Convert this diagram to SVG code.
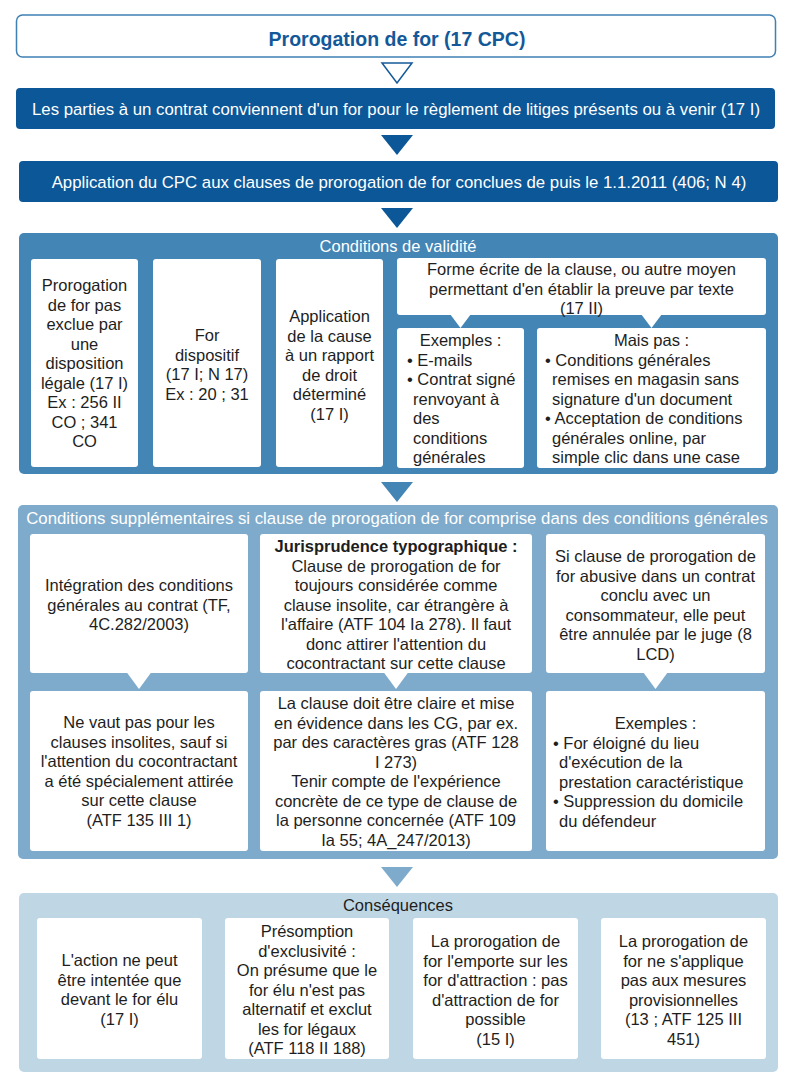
<svg xmlns="http://www.w3.org/2000/svg" width="792" height="1086" viewBox="0 0 792 1086">
  <style>
    text { font-family: "Liberation Sans", Arial, Helvetica, sans-serif; font-size: 16.5px; fill: #1e1e1e; }
    .c { text-anchor: middle; }
    .w { fill: #ffffff; }
    .wide { font-size: 16.8px; }
    .title { font-size: 19.5px; font-weight: bold; fill: #13599a; }
    .bold { font-weight: bold; }
    .card { fill: #ffffff; }
    .bar { fill: #0b5797; }
    .s1 { fill: #4385b4; }
    .s2 { fill: #7eabcc; }
    .s3 { fill: #bfd7e5; }
  </style>

  <!-- connectors -->
  <g id="connectors">
    <polygon points="382,63 412,63 397,83" fill="#ffffff" stroke="#13599a" stroke-width="1.5"/>
    <polygon points="381,135 413,135 397,155" fill="#0b5797"/>
    <polygon points="381,208 413,208 397,228" fill="#0b5797"/>
    <polygon points="381,482 413,482 397,502" fill="#4385b4"/>
    <polygon points="381,867 413,867 397,887" fill="#7eabcc"/>
  </g>

  <!-- heading -->
  <g id="heading">
    <rect x="16.5" y="15" width="759" height="42" rx="6" fill="#ffffff" stroke="#3f80b5" stroke-width="1.5"/>
    <text class="title c" x="397" y="46">Prorogation de for (17 CPC)</text>
  </g>

  <g id="agreement">
    <rect class="bar" x="16" y="88" width="759" height="41" rx="4"/>
    <text class="w c wide" x="396" y="115">Les parties à un contrat conviennent d'un for pour le règlement de litiges présents ou à venir (17 I)</text>
  </g>

  <g id="application">
    <rect class="bar" x="19" y="161" width="759" height="41" rx="4"/>
    <text class="w c wide" x="399" y="188">Application du CPC aux clauses de prorogation de for conclues de puis le 1.1.2011 (406; N 4)</text>
  </g>

  <!-- Conditions de validité -->
  <g id="validite">
    <rect class="s1" x="19" y="233" width="759" height="241" rx="5"/>
    <text class="w c" x="398" y="252">Conditions de validité</text>

    <g id="v-exclue">
      <rect class="card" x="31" y="259" width="107" height="208" rx="3"/>
      <text class="c" x="84.5" y="291">Prorogation<tspan x="84.5" dy="19.5">de for pas</tspan><tspan x="84.5" dy="19.5">exclue par</tspan><tspan x="84.5" dy="19.5">une</tspan><tspan x="84.5" dy="19.5">disposition</tspan><tspan x="84.5" dy="19.5">légale (17 I)</tspan><tspan x="84.5" dy="19.5">Ex : 256 II</tspan><tspan x="84.5" dy="19.5">CO ; 341</tspan><tspan x="84.5" dy="19.5">CO</tspan></text>
    </g>

    <g id="v-dispositif">
      <rect class="card" x="153" y="259" width="108" height="208" rx="3"/>
      <text class="c" x="207" y="341">For<tspan x="207" dy="19.5">dispositif</tspan><tspan x="207" dy="19.5">(17 I; N 17)</tspan><tspan x="207" dy="19.5">Ex : 20 ; 31</tspan></text>
    </g>

    <g id="v-rapport">
      <rect class="card" x="276" y="259" width="107" height="208" rx="3"/>
      <text class="c" x="329.5" y="322">Application<tspan x="329.5" dy="19.5">de la cause</tspan><tspan x="329.5" dy="19.5">à un rapport</tspan><tspan x="329.5" dy="19.5">de droit</tspan><tspan x="329.5" dy="19.5">déterminé</tspan><tspan x="329.5" dy="19.5">(17 I)</tspan></text>
    </g>

    <g id="v-forme">
      <rect class="card" x="397" y="258" width="369" height="57" rx="3"/>
      <polygon class="card" points="450,314 471,314 460.5,328"/>
      <polygon class="card" points="641,314 662,314 651.5,328"/>
      <text class="c" x="581.5" y="275">Forme écrite de la clause, ou autre moyen<tspan x="581.5" dy="19.5">permettant d'en établir la preuve par texte</tspan><tspan x="581.5" dy="19.5">(17 II)</tspan></text>
    </g>

    <g id="v-exemples">
      <rect class="card" x="397" y="328" width="127" height="140" rx="3"/>
      <text class="c" x="460.5" y="346">Exemples :</text>
      <text x="407" y="365.5">• E-mails<tspan x="407" dy="19.5">• Contrat signé</tspan><tspan x="413" dy="19.5">renvoyant à</tspan><tspan x="413" dy="19.5">des</tspan><tspan x="413" dy="19.5">conditions</tspan><tspan x="413" dy="19.5">générales</tspan></text>
    </g>

    <g id="v-maispas">
      <rect class="card" x="537" y="328" width="229" height="140" rx="3"/>
      <text class="c" x="651.5" y="346">Mais pas :</text>
      <text x="545" y="365.5">• Conditions générales<tspan x="552" dy="19.5">remises en magasin sans</tspan><tspan x="552" dy="19.5">signature d'un document</tspan><tspan x="545" dy="19.5">• Acceptation de conditions</tspan><tspan x="552" dy="19.5">générales online, par</tspan><tspan x="552" dy="19.5">simple clic dans une case</tspan></text>
    </g>
  </g>

  <!-- Conditions supplémentaires -->
  <g id="supplementaires">
    <rect class="s2" x="18" y="505" width="760" height="354" rx="5"/>
    <text class="w c wide" x="397" y="524">Conditions supplémentaires si clause de prorogation de for comprise dans des conditions générales</text>

    <g id="s-integration">
      <rect class="card" x="30" y="534" width="218" height="139" rx="3"/>
      <polygon class="card" points="126.5,672 151.5,672 139,689"/>
      <text class="c" x="139" y="591">Intégration des conditions<tspan x="139" dy="19.5">générales au contrat (TF,</tspan><tspan x="139" dy="19.5">4C.282/2003)</tspan></text>
    </g>

    <g id="s-jurisprudence">
      <rect class="card" x="260" y="534" width="272" height="139" rx="3"/>
      <polygon class="card" points="383.5,672 408.5,672 396,689"/>
      <text class="c" x="396" y="552"><tspan class="bold">Jurisprudence typographique :</tspan><tspan x="396" dy="19.5">Clause de prorogation de for</tspan><tspan x="396" dy="19.5">toujours considérée comme</tspan><tspan x="396" dy="19.5">clause insolite, car étrangère à</tspan><tspan x="396" dy="19.5">l'affaire (ATF 104 Ia 278). Il faut</tspan><tspan x="396" dy="19.5">donc attirer l'attention du</tspan><tspan x="396" dy="19.5">cocontractant sur cette clause</tspan></text>
    </g>

    <g id="s-abusive">
      <rect class="card" x="546" y="534" width="219" height="139" rx="3"/>
      <polygon class="card" points="643,672 668,672 655.5,689"/>
      <text class="c" x="655.5" y="562">Si clause de prorogation de<tspan x="655.5" dy="19.5">for abusive dans un contrat</tspan><tspan x="655.5" dy="19.5">conclu avec un</tspan><tspan x="655.5" dy="19.5">consommateur, elle peut</tspan><tspan x="655.5" dy="19.5">être annulée par le juge (8</tspan><tspan x="655.5" dy="19.5">LCD)</tspan></text>
    </g>

    <g id="s-insolites">
      <rect class="card" x="30" y="691" width="218" height="160" rx="3"/>
      <text class="c" x="139" y="728">Ne vaut pas pour les<tspan x="139" dy="19.5">clauses insolites, sauf si</tspan><tspan x="139" dy="19.5">l'attention du cocontractant</tspan><tspan x="139" dy="19.5">a été spécialement attirée</tspan><tspan x="139" dy="19.5">sur cette clause</tspan><tspan x="139" dy="19.5">(ATF 135 III 1)</tspan></text>
    </g>

    <g id="s-evidence">
      <rect class="card" x="260" y="691" width="272" height="160" rx="3"/>
      <text class="c" x="396" y="709">La clause doit être claire et mise<tspan x="396" dy="19.5">en évidence dans les CG, par ex.</tspan><tspan x="396" dy="19.5">par des caractères gras (ATF 128</tspan><tspan x="396" dy="19.5">I 273)</tspan><tspan x="396" dy="19.5">Tenir compte de l'expérience</tspan><tspan x="396" dy="19.5">concrète de ce type de clause de</tspan><tspan x="396" dy="19.5">la personne concernée (ATF 109</tspan><tspan x="396" dy="19.5">Ia 55; 4A_247/2013)</tspan></text>
    </g>

    <g id="s-exemples">
      <rect class="card" x="546" y="691" width="219" height="160" rx="3"/>
      <text class="c" x="655.5" y="729">Exemples :</text>
      <text x="553" y="748.5">• For éloigné du lieu<tspan x="559" dy="19.5">d'exécution de la</tspan><tspan x="559" dy="19.5">prestation caractéristique</tspan><tspan x="553" dy="19.5">• Suppression du domicile</tspan><tspan x="559" dy="19.5">du défendeur</tspan></text>
    </g>
  </g>

  <!-- Conséquences -->
  <g id="consequences">
    <rect class="s3" x="19" y="893" width="759" height="179" rx="5"/>
    <text class="c" x="398" y="911">Conséquences</text>

    <g id="c-for-elu">
      <rect class="card" x="37" y="918" width="165" height="141" rx="3"/>
      <text class="c" x="119.5" y="966">L'action ne peut<tspan x="119.5" dy="19.5">être intentée que</tspan><tspan x="119.5" dy="19.5">devant le for élu</tspan><tspan x="119.5" dy="19.5">(17 I)</tspan></text>
    </g>

    <g id="c-exclusivite">
      <rect class="card" x="225" y="918" width="164" height="141" rx="3"/>
      <text class="c" x="307" y="937">Présomption<tspan x="307" dy="19.5">d'exclusivité :</tspan><tspan x="307" dy="19.5">On présume que le</tspan><tspan x="307" dy="19.5">for élu n'est pas</tspan><tspan x="307" dy="19.5">alternatif et exclut</tspan><tspan x="307" dy="19.5">les for légaux</tspan><tspan x="307" dy="19.5">(ATF 118 II 188)</tspan></text>
    </g>

    <g id="c-attraction">
      <rect class="card" x="413" y="918" width="165" height="141" rx="3"/>
      <text class="c" x="495.5" y="947">La prorogation de<tspan x="495.5" dy="19.5">for l'emporte sur les</tspan><tspan x="495.5" dy="19.5">for d'attraction : pas</tspan><tspan x="495.5" dy="19.5">d'attraction de for</tspan><tspan x="495.5" dy="19.5">possible</tspan><tspan x="495.5" dy="19.5">(15 I)</tspan></text>
    </g>

    <g id="c-provisionnelles">
      <rect class="card" x="601" y="918" width="165" height="141" rx="3"/>
      <text class="c" x="683.5" y="947">La prorogation de<tspan x="683.5" dy="19.5">for ne s'applique</tspan><tspan x="683.5" dy="19.5">pas aux mesures</tspan><tspan x="683.5" dy="19.5">provisionnelles</tspan><tspan x="683.5" dy="19.5">(13 ; ATF 125 III</tspan><tspan x="683.5" dy="19.5">451)</tspan></text>
    </g>
  </g>
</svg>
